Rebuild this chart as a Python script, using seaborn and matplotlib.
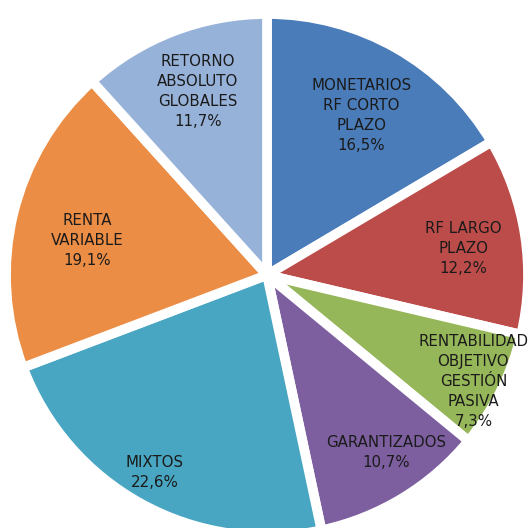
import numpy as np
import matplotlib
matplotlib.use("Agg")
import matplotlib.pyplot as plt
import seaborn as sns

sns.set_theme(style="white")
plt.rcParams['font.family'] = ['DejaVu Sans']

# Data (clockwise from 12 o'clock)
categories = [
    "MONETARIOS\nRF CORTO\nPLAZO",
    "RF LARGO\nPLAZO",
    "RENTABILIDAD\nOBJETIVO\nGESTIÓN\nPASIVA",
    "GARANTIZADOS",
    "MIXTOS",
    "RENTA\nVARIABLE",
    "RETORNO\nABSOLUTO\nGLOBALES",
]
shares = [16.5, 12.2, 7.3, 10.7, 22.6, 19.1, 11.7]
colors = ["#4A7CB9", "#BC4C4A", "#96B759", "#7D5FA0", "#48A6C2", "#EC8D45", "#97B2D9"]

# where each label sits inside its wedge (fraction of radius, angle nudge in deg)
label_r = [0.71, 0.76, 0.89, 0.82, 0.87, 0.70, 0.75]
label_dang = [-1.0, -1.0, -1.0, 2.6, -1.0, 2.7, -0.4]

W, H = 530, 528
cx, cy, R = 267, 275, 261  # pie centre / radius in pixels

fig = plt.figure(figsize=(W / 100, H / 100), dpi=100)
ax = fig.add_axes([0, 0, 1, 1])

wedges, _ = ax.pie(
    shares,
    colors=colors,
    startangle=90,
    counterclock=False,
    radius=1,
    wedgeprops=dict(edgecolor="white", linewidth=7),
)

for w, lab, v, rf, da in zip(wedges, categories, shares, label_r, label_dang):
    mid = np.deg2rad((w.theta1 + w.theta2) / 2 + da)
    txt = lab + "\n" + f"{v:.1f}%".replace(".", ",")
    ax.text(rf * np.cos(mid), rf * np.sin(mid), txt,
            ha="center", va="center", fontsize=10.8, color="#1a1a1a",
            linespacing=1.42)

ax.set_xlim(-cx / R, (W - cx) / R)
ax.set_ylim(-(H - cy) / R, cy / R)
ax.set_aspect("equal")
ax.axis("off")

fig.savefig("out.png", dpi=100, facecolor="white")
